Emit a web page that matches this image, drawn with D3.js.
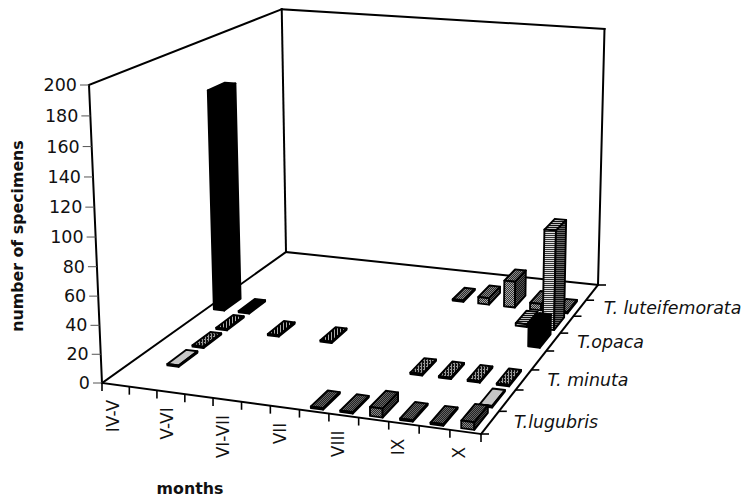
<!DOCTYPE html>
<html lang="en">
<head>
    <meta charset="UTF-8">
    <title>Specimens per month</title>

    <script src="https://d3js.org/d3.v7.min.js"></script>

    <style>
        html, body { margin: 0; padding: 0; background: #fff; }
        svg { display: block; }
        text { font-family: "DejaVu Sans", sans-serif; fill: #111; }
    </style>

    <script>

        // thirteen sampling slots, only every second one has a label
        const MONTH_LABELS = ["IV-V", "", "V-VI", "", "VI-VII", "", "VII", "", "VIII", "", "IX", "", "X"];
        const DEPTH_LABELS = ["T.lugubris", "", "T. minuta", "", "T.opaca", "", "T. luteifemorata", ""];
        const VALUE_TICKS = [0, 20, 40, 60, 80, 100, 120, 140, 160, 180, 200];

        // one row of the floor each, front to back
        const ROW_0 = [0, 0, 0, 0, 0, 0, 0, 1, 1, 6, 1, 1, 5];
        const ROW_1 = [0, 1, 0, 0, 0, 0, 0, 0, 0, 0, 0, 0, 1];
        const ROW_2 = [0, 1, 0, 0, 0, 0, 0, 0, 0, 1, 1, 1, 1];
        const ROW_3 = [0, 1, 0, 1, 0, 1, 0, 0, 0, 0, 0, 0, 0];
        const ROW_4 = [165, 1, 0, 0, 0, 0, 0, 0, 0, 0, 0, 0, 15];
        const ROW_5 = [0, 0, 0, 0, 0, 0, 0, 0, 0, 0, 0, 2, 74];
        const ROW_6 = [0, 0, 0, 0, 0, 0, 0, 0, 1, 5, 20, 5, 1];
        const ROWS = [ROW_0, ROW_1, ROW_2, ROW_3, ROW_4, ROW_5, ROW_6];

        // floor corners and left wall top as seen in the picture
        const FLOOR = [[102, 383], [481, 434], [598, 285], [286, 252]];
        const WALL_TOP = [89, 85];
        const WALL_W = -0.04;

        document.addEventListener("DOMContentLoaded", function() {
            createChart();
        })

        function makeProjection() {
            const [p0, p1, p2, p3] = FLOOR;
            const sx = p0[0] - p1[0] + p2[0] - p3[0];
            const sy = p0[1] - p1[1] + p2[1] - p3[1];
            const dx1 = p1[0] - p2[0], dx2 = p3[0] - p2[0];
            const dy1 = p1[1] - p2[1], dy2 = p3[1] - p2[1];
            const det = dx1 * dy2 - dx2 * dy1;
            const g = (sx * dy2 - dx2 * sy) / det;
            const h = (dx1 * sy - sx * dy1) / det;
            const a = p1[0] - p0[0] + g * p1[0];
            const b = p3[0] - p0[0] + h * p3[0];
            const d = p1[1] - p0[1] + g * p1[1];
            const e = p3[1] - p0[1] + h * p3[1];
            const zx = WALL_TOP[0] * (1 + WALL_W) - p0[0];
            const zy = WALL_TOP[1] * (1 + WALL_W) - p0[1];

            return function(u, v, z) {
                const w = g * u + h * v + WALL_W * z + 1;
                return [(a * u + b * v + zx * z + p0[0]) / w, (d * u + e * v + zy * z + p0[1]) / w];
            };
        }

        function addPatterns(defs) {
            // tile: size, background, then rects as [x, y, w, h, colour]
            const tiles = {
                d0: [2, "#222", [[0, 0, 1, 1, "#666"], [1, 1, 1, 1, "#666"]]],
                d1: [2, "#2a2a2a", [[0, 0, 1, 1, "#888"], [1, 1, 1, 1, "#888"]]],
                d2: [2, "#111", [[0, 0, 1, 1, "#444"], [1, 1, 1, 1, "#444"]]],
                c0: [3, "#111", [[0, 0, 2, 1, "#999"], [1, 1, 1, 2, "#999"]]],
                c1: [2, "#111", [[0, 0, 1, 1, "#555"]]],
                s0: [3, "#000", [[1, 0, 1, 3, "#aaa"]]],
                s1: [2, "#000", [[0, 0, 1, 2, "#333"]]],
                h0: [2, "#111", [[0, 0, 2, 1, "#bbb"]]],
                h1: [2, "#333", [[0, 0, 2, 1, "#ddd"]]],
                h2: [2, "#111", [[0, 0, 2, 1, "#666"]]],
                g0: [2, "#2a2a2a", [[0, 0, 1, 1, "#888"], [1, 1, 1, 1, "#888"]]],
                g1: [2, "#333", [[0, 0, 1, 1, "#aaa"], [1, 1, 1, 1, "#aaa"]]],
                g2: [2, "#111", [[0, 0, 1, 1, "#555"], [1, 1, 1, 1, "#555"]]]
            };
            Object.keys(tiles).forEach(function(id) {
                const t = tiles[id];
                const pat = defs.append("pattern")
                    .attr("id", id)
                    .attr("patternUnits", "userSpaceOnUse")
                    .attr("width", t[0])
                    .attr("height", t[0]);
                pat.append("rect").attr("width", t[0]).attr("height", t[0]).attr("fill", t[1]);
                pat.selectAll("rect.f")
                    .data(t[2])
                    .enter()
                    .append("rect")
                    .attr("class", "f")
                    .attr("x", r => r[0])
                    .attr("y", r => r[1])
                    .attr("width", r => r[2])
                    .attr("height", r => r[3])
                    .attr("fill", r => r[4]);
            });
        }

        // top, front, side fill of each row
        const FACE_FILLS = [
            ["url(#d0)", "url(#d1)", "url(#d2)"],
            ["#c6c6c6", "#999", "#444"],
            ["url(#c0)", "url(#c0)", "url(#c1)"],
            ["url(#s0)", "url(#s0)", "url(#s1)"],
            ["#000", "#000", "#000"],
            ["url(#h0)", "url(#h1)", "url(#h2)"],
            ["url(#g0)", "url(#g1)", "url(#g2)"]
        ];

        function createChart() {
            const svg = d3.select("svg");
            const width = 742;
            const height = 500;

            svg.attr("width", width).attr("height", height);
            addPatterns(svg.append("defs"));

            const project = makeProjection();

            const x = d3.scaleLinear().domain([0, MONTH_LABELS.length]).range([0, 1]);
            const y = d3.scaleLinear().domain([0, DEPTH_LABELS.length]).range([0, 1]);
            const z = d3.scaleLinear().domain([0, 200]).range([0, 1]);

            const line = d3.line();
            const edge = function(a, b) {
                svg.append("path")
                    .attr("d", line([project(a[0], a[1], a[2]), project(b[0], b[1], b[2])]))
                    .attr("stroke", "#000")
                    .attr("stroke-width", 2)
                    .attr("stroke-linecap", "square")
                    .attr("fill", "none");
            };

            // walls and floor
            edge([0, 0, 0], [0, 0, 1]);
            edge([0, 0, 1], [0, 1, 1]);
            edge([0, 1, 1], [1, 1, 1]);
            edge([0, 1, 0], [0, 1, 1]);
            edge([1, 1, 0], [1, 1, 1]);
            edge([0, 0, 0], [0, 1, 0]);
            edge([0, 1, 0], [1, 1, 0]);
            edge([0, 0, 0], [1, 0, 0]);
            edge([1, 0, 0], [1, 1, 0]);

            // value axis
            VALUE_TICKS.forEach(function(t) {
                const p = project(0, 0, z(t));
                svg.append("path")
                    .attr("d", line([[p[0] - 9, p[1]], p]))
                    .attr("stroke", "#555")
                    .attr("stroke-width", 1)
                    .attr("fill", "none");
                svg.append("text")
                    .attr("x", p[0] - 12)
                    .attr("y", p[1] + 6)
                    .attr("text-anchor", "end")
                    .style("font-size", "17.5px")
                    .text(t);
            });

            // month axis
            d3.range(MONTH_LABELS.length + 1).forEach(function(i) {
                const p = project(x(i), 0, 0);
                svg.append("path")
                    .attr("d", line([p, [p[0], p[1] + 8]]))
                    .attr("stroke", "#000")
                    .attr("stroke-width", 1.6)
                    .attr("fill", "none");
            });
            MONTH_LABELS.forEach(function(label, i) {
                if (!label) return;
                const p = project(x(i + 0.5), 0, 0);
                svg.append("text")
                    .attr("transform", "translate(" + (p[0] + 3 - i * 0.3) + "," + (p[1] + 15) + ") rotate(-90)")
                    .attr("text-anchor", "end")
                    .style("font-size", "17px")
                    .text(label);
            });

            // series axis
            d3.range(DEPTH_LABELS.length + 1).forEach(function(i) {
                const p = project(1, y(i), 0);
                svg.append("path")
                    .attr("d", line([p, [p[0] + 8, p[1]]]))
                    .attr("stroke", "#000")
                    .attr("stroke-width", 1.6)
                    .attr("fill", "none");
            });
            DEPTH_LABELS.forEach(function(label, i) {
                if (!label) return;
                const p = project(1, y(i + 0.5), 0);
                svg.append("text")
                    .attr("x", p[0] + 24)
                    .attr("y", p[1] + 6)
                    .style("font-size", "17.4px")
                    .style("font-style", "italic")
                    .text(label);
            });

            // axis titles
            svg.append("text")
                .attr("transform", "translate(23,236) rotate(-90)")
                .attr("text-anchor", "middle")
                .style("font-size", "15.8px")
                .style("font-weight", "bold")
                .text("number of specimens");
            svg.append("text")
                .attr("x", 190)
                .attr("y", 494)
                .attr("text-anchor", "middle")
                .style("font-size", "15.8px")
                .style("font-weight", "bold")
                .text("months");

            // bars, far rows first and left to right inside a row
            const barWidth = 0.42, barDepth = 0.75;
            const bars = svg.append("g");

            d3.range(ROWS.length - 1, -1, -1).forEach(function(r) {
                ROWS[r].forEach(function(value, c) {
                    if (!value) return;
                    const u0 = x(c + 0.5 - barWidth / 2), u1 = x(c + 0.5 + barWidth / 2);
                    const v0 = y(r + 0.5 - barDepth / 2), v1 = y(r + 0.5 + barDepth / 2);
                    const top = z(value);
                    const faces = [
                        [[u0, v0, top], [u1, v0, top], [u1, v1, top], [u0, v1, top]],
                        [[u0, v0, 0], [u1, v0, 0], [u1, v0, top], [u0, v0, top]],
                        [[u1, v0, 0], [u1, v1, 0], [u1, v1, top], [u1, v0, top]]
                    ];
                    bars.selectAll(null)
                        .data(faces)
                        .enter()
                        .append("path")
                        .attr("d", f => line(f.map(q => project(q[0], q[1], q[2]))) + "Z")
                        .attr("fill", (f, i) => FACE_FILLS[r][i])
                        .attr("stroke", "#000")
                        .attr("stroke-width", 1.9)
                        .attr("stroke-linejoin", "round");
                });
            });
        }

    </script>

</head>
<body>
    <svg id="chart"></svg>
</body>
</html>
